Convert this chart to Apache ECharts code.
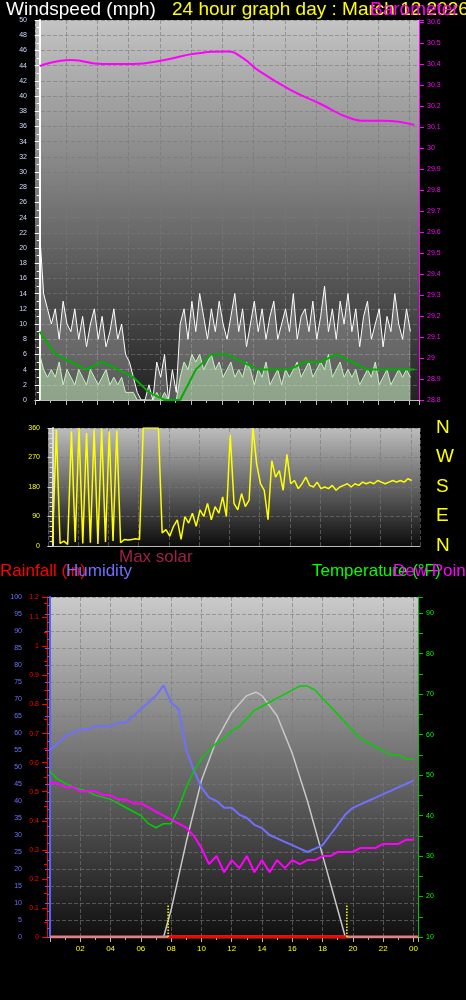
<!DOCTYPE html><html><head><meta charset="utf-8"><script src="https://cdn.jsdelivr.net/npm/echarts@6/dist/echarts.min.js"></script>
<style>html,body{margin:0;background:#000}#c{width:466px;height:1000px}</style></head><body><div id="c"></div><script>
const hourLabels=['02','04','06','08','10','12','14','16','18','20','22','00'];
const gust=[22,14,12,10,12,8,13,10,9,12,8,11,7,10,12,8,11,7,9,12,8,10,6,5,3,1,0,0,2,0,5,3,6,0,4,1,10,12,8,13,9,14,11,8,12,9,13,10,8,11,14,9,12,7,10,13,9,12,8,11,13,8,10,12,9,14,8,11,12,9,13,8,11,15,9,12,8,13,10,14,9,12,7,11,13,8,10,12,7,11,9,14,10,8,12,9];
const speed=[6,4,3,4,3,5,2,4,3,2,4,3,2,4,3,2,3,4,2,3,2,3,1,1,1,0,0,0,0,0,1,0,1,0,0,0,3,5,4,6,5,6,4,5,6,4,5,3,4,5,3,4,3,5,4,2,4,3,5,2,3,4,2,4,3,4,5,3,4,5,3,4,5,4,6,3,4,5,3,4,3,4,2,3,4,3,5,2,3,4,2,3,4,3,4,3];
const avgWind=[9,6,5,4,5,4,3,1,0,0,4,6,6,5,4,4,4,5,5,6,5,4,4,4,4];
const pressT=[0,2,4,6,8,10,12,13,14,16,18,20,21,22,24];
const pressure=[30.39,30.42,30.40,30.40,30.42,30.45,30.46,30.43,30.37,30.28,30.21,30.14,30.13,30.13,30.11];
const direction=[10,355,8,15,5,350,12,360,8,345,10,355,6,358,12,350,15,352,10,20,18,20,22,20,360,360,360,360,360,40,50,30,60,80,20,90,70,100,60,110,90,130,80,120,100,150,90,340,130,110,160,120,140,360,250,190,170,80,260,210,230,170,280,190,200,175,190,210,185,180,195,175,180,175,185,170,180,185,190,180,190,185,195,190,195,190,200,195,190,195,200,195,200,195,205,200];
const humidity=[55,57,59,60,61,61,62,62,62,63,63,65,67,69,71,74,69,67,55,49,44,41,40,38,38,36,35,33,32,30,29,28,27,26,25,26,27,30,33,36,38,39,40,41,42,43,44,45,46];
const temperature=[51,49,48,47,46.5,46,45,44.5,44,43,42,41,40,38,37,38,38,42,47,51,54,56,58,59,61,62,64,66,67,68,69,70,71,72,72,71,69,67,65,63,61,59,58,57,56,55,55,54,54];
const dewPoint=[48,48,47,47,46,46,46,45,45,44,44,43,43,42,41,40,39,38,37,35,32,28,30,26,29,27,30,26,29,26,29,27,29,28,29,29,30,30,31,31,31,32,32,32,33,33,33,34,34];
const solarT=[7.5,8,9,10,11,12,13,13.6,14,15,16,17,18,19,19.5];
const solar=[0,8,28,46,58,66,71,72,71,65,54,40,24,8,0];
const sunEvents=[7.8,19.6];
const q=(arr,step)=>arr.map((v,i)=>[i*step,v]);
const pair=(t,v)=>t.map((x,i)=>[x,v[i]]);
const bg=(a,b)=>({type:'linear',x:0,y:0,x2:0,y2:1,colorStops:[{offset:0,color:a},{offset:1,color:b}]});
const split={show:true,lineStyle:{color:'rgba(120,120,120,0.6)',type:'dashed',width:1}};
const xa=(g,show,min,max)=>({type:'value',gridIndex:g,min:min,max:max,interval:2,
 axisLabel:{show:show,color:'#ffff00',fontSize:8,formatter:v=>(v>0&&v<=24&&v%2===0)?hourLabels[v/2-1]:''},
 axisLine:{lineStyle:{color:'#bbb'}},axisTick:{show:show,lineStyle:{color:'#bbb'}},splitLine:split,minorTick:{show:show,splitNumber:2}});
const F='"Liberation Sans"';
const chart=echarts.init(document.getElementById('c'));
chart.setOption({backgroundColor:'#000',animation:false,
grid:[{left:35,right:47,top:20,bottom:600,show:true,backgroundColor:bg('#c4c4c4','#222'),borderWidth:0},
{left:48,right:46,top:428,bottom:454,show:true,backgroundColor:bg('#bdbdbd','#0c0c0c'),borderWidth:0},
{left:50,right:48,top:597,bottom:63,show:true,backgroundColor:bg('#cacaca','#101010'),borderWidth:0}],
graphic:[
{type:'text',left:6,top:0,style:{text:'Windspeed (mph)',fill:'#fff',font:'19px '+F}},
{type:'text',left:172,top:0,style:{text:'24 hour graph day : March 12 2026',fill:'#ffff00',font:'19px '+F}},
{type:'text',left:370,top:0,style:{text:'Barometer',fill:'#ff00ff',font:'19px '+F}},
...['N','W','S','E','N'].map((s,i)=>({type:'text',left:436,top:418+i*29.5,style:{text:s,fill:'#ffff00',font:'19px '+F}})),
{type:'text',left:119,top:549,style:{text:'Max solar',fill:'#a0204a',font:'17px '+F}},
{type:'text',left:0,top:563,style:{text:'Rainfall (in)',fill:'#ff0000',font:'17px '+F}},
{type:'text',left:66,top:563,style:{text:'Humidity',fill:'#7070ff',font:'17px '+F}},
{type:'text',left:312,top:563,style:{text:'Temperature (°F)',fill:'#00ff00',font:'17px '+F}},
{type:'text',left:393,top:563,style:{text:'Dew Point',fill:'#ff00ff',font:'17px '+F}}],
xAxis:[xa(0,true,-0.3,24.3),xa(1,false,-0.3,24.3),xa(2,true,0,24.3)],
yAxis:[
{gridIndex:0,position:'left',min:0,max:50,interval:2,axisLabel:{color:'#d0dcff',fontSize:7},axisLine:{show:true,lineStyle:{color:'#fff',width:2}},axisTick:{show:true},minorTick:{show:true,splitNumber:2},splitLine:split},
{gridIndex:0,position:'right',min:28.8,max:30.61,interval:0.1,axisLabel:{color:'#ff00ff',fontSize:7,formatter:v=>v>30.605?'':(+v.toFixed(1)).toString()},axisLine:{show:true,lineStyle:{color:'#ff00ff'}},axisTick:{show:true},splitLine:{show:false}},
{gridIndex:1,position:'left',min:0,max:360,interval:90,axisLabel:{color:'#ffff00',fontSize:7},axisLine:{show:true,lineStyle:{color:'#ddd',width:2}},axisTick:{show:true},minorTick:{show:true,splitNumber:6},splitLine:split},
{gridIndex:2,position:'left',min:0,max:100,interval:5,offset:20,axisLabel:{color:'#7070ff',fontSize:7},axisLine:{show:true,lineStyle:{color:'#6060ff',width:2}},axisTick:{show:true},minorTick:{show:true,splitNumber:2},splitLine:split},
{gridIndex:2,position:'left',min:0,max:1.17,interval:0.1,offset:3,axisLabel:{color:'#ff0000',fontSize:7,formatter:v=>(+v.toFixed(1)).toString()},axisLine:{show:true,lineStyle:{color:'#ff0000'}},axisTick:{show:true,lineStyle:{color:'#ff0000'}},minorTick:{show:true,splitNumber:2,lineStyle:{color:'#ff0000'}},splitLine:{show:false}},
{gridIndex:2,position:'right',min:10,max:94,interval:5,axisLabel:{color:'#00ff00',fontSize:7,formatter:v=>v%10===0?v:''},axisLine:{show:true,lineStyle:{color:'#00c000'}},axisTick:{show:true},splitLine:{show:false}}],
series:[
{type:'line',xAxisIndex:0,yAxisIndex:0,data:q(gust,0.25),symbol:'none',lineStyle:{color:'#fff',width:1},areaStyle:{color:'rgba(255,255,255,0.35)'}},
{type:'line',xAxisIndex:0,yAxisIndex:0,data:q(speed,0.25),symbol:'none',lineStyle:{color:'#c8f0c0',width:1},areaStyle:{color:'rgba(200,240,190,0.7)'}},
{type:'line',xAxisIndex:0,yAxisIndex:0,data:q(avgWind,1),symbol:'none',lineStyle:{color:'#00b000',width:2}},
{type:'line',xAxisIndex:0,yAxisIndex:1,data:pair(pressT,pressure),smooth:true,symbol:'none',lineStyle:{color:'#ff00ff',width:2}},
{type:'line',xAxisIndex:1,yAxisIndex:2,data:q(direction,0.25),symbol:'none',lineStyle:{color:'#ffff00',width:1.5}},
{type:'line',xAxisIndex:2,yAxisIndex:3,data:pair(solarT,solar),symbol:'none',lineStyle:{color:'#c8c8c8',width:1.5}},
{type:'line',xAxisIndex:2,yAxisIndex:3,data:q(humidity,0.5),symbol:'none',lineStyle:{color:'#7070ff',width:2}},
{type:'line',xAxisIndex:2,yAxisIndex:5,data:q(temperature,0.5),symbol:'none',lineStyle:{color:'#00d000',width:1.5}},
{type:'line',xAxisIndex:2,yAxisIndex:5,data:q(dewPoint,0.5),symbol:'none',lineStyle:{color:'#ff00ff',width:2}},
{type:'line',xAxisIndex:2,yAxisIndex:4,data:[[0,0],[24.3,0]],symbol:'none',lineStyle:{color:'#e08080',width:3}},
{type:'line',xAxisIndex:2,yAxisIndex:4,data:[[sunEvents[0],0],[sunEvents[1],0]],symbol:'none',lineStyle:{color:'#ff0000',width:3}},
...sunEvents.map(t=>({type:'line',xAxisIndex:2,yAxisIndex:3,data:[[t,0],[t,9.5]],symbol:'none',lineStyle:{color:'#ffff00',width:1.5,type:'dotted'}}))
]});
</script></body></html>
